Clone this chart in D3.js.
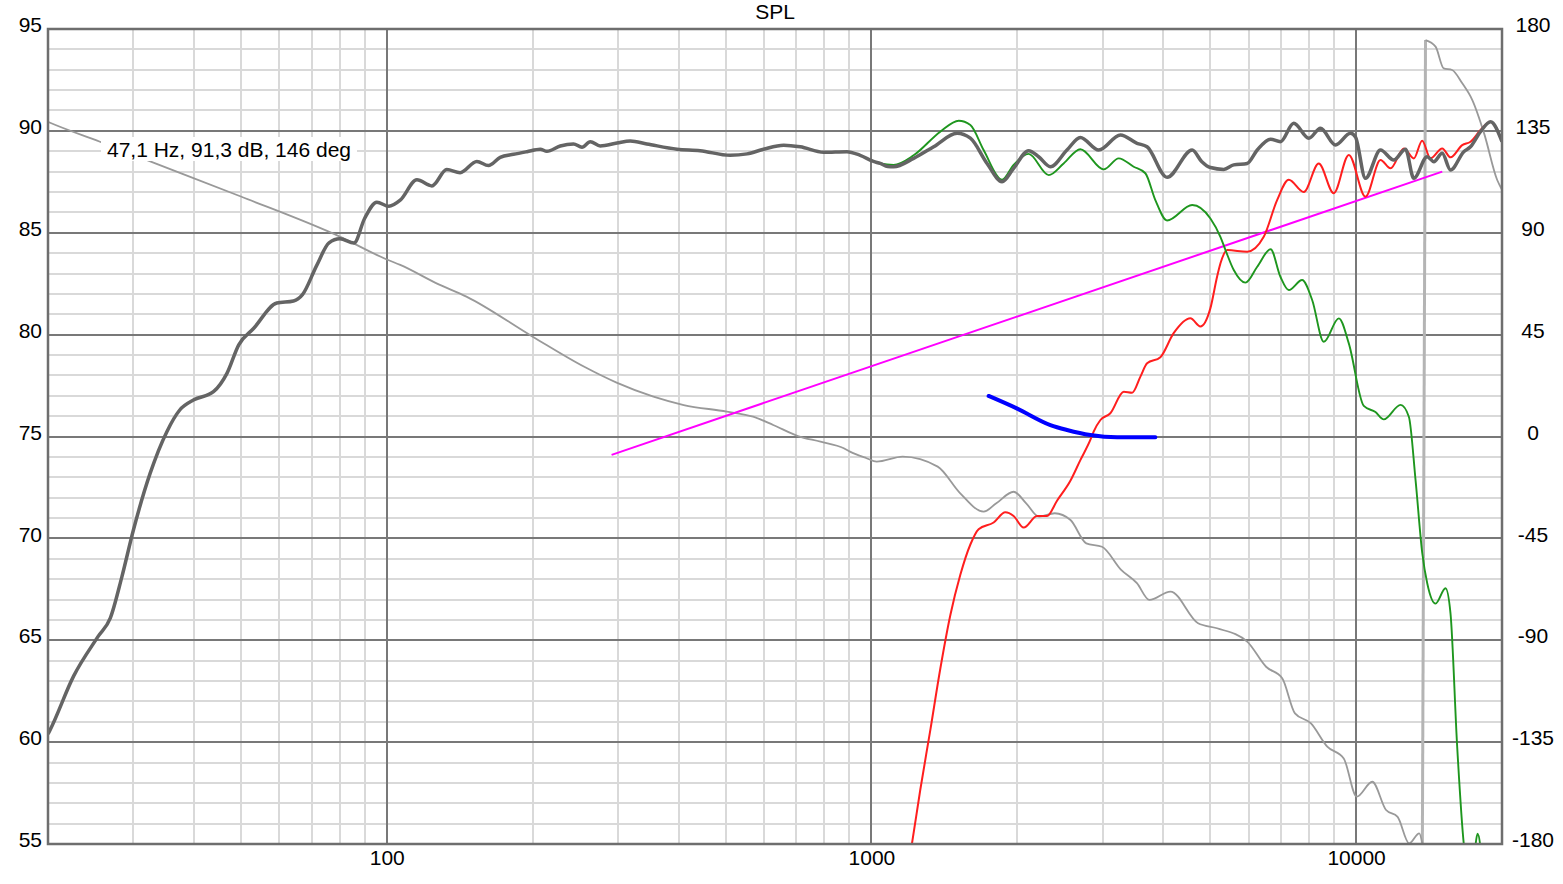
<!DOCTYPE html>
<html><head><meta charset="utf-8">
<script src="https://cdn.jsdelivr.net/npm/d3@7"></script>
<style>
html,body{margin:0;padding:0;background:#fff;}
svg{display:block;font-family:"Liberation Sans",Arial,sans-serif;}
</style></head><body>
<svg id="chart" width="1563" height="884"></svg>
<script>
// ---------- data ----------
const title = "SPL";
const cursorLabel = "47,1 Hz, 91,3 dB, 146 deg";
const xTickValues = [100, 1000, 10000];
const yLeftTicks = [55, 60, 65, 70, 75, 80, 85, 90, 95];
const yRightTicks = [-180, -135, -90, -45, 0, 45, 90, 135, 180];

// total SPL (dark grey, thick) [Hz, dB]
const totalSpl = [
  [20,60.4],[20.2,60.6],[22.6,63.25],[25.4,65.2],[26.9,66.1],[28.4,68.1],[30,70.4],[32.5,73.2],
  [35.2,75.25],[37.4,76.3],[40,76.8],[43.9,77.2],[46.8,78.1],[49.5,79.5],[53.1,80.3],
  [59.3,81.55],[64.2,81.65],[67,81.96],[71.7,83.4],[76,84.5],[80,84.7],[85.6,84.5],
  [90,85.7],[95.4,86.5],[101,86.3],[106.6,86.6],[115.4,87.6],[123.9,87.3],[133,88.1],
  [141.7,87.95],[153.4,88.5],[162.1,88.3],[171.4,88.7],[182.6,88.85],[194.6,88.98],
  [207.3,89.1],[214,89.0],[228,89.26],[242.8,89.36],[252.8,89.2],[263,89.47],[275.7,89.26],
  [298.5,89.4],[318,89.5],[344,89.36],[397,89.1],[443,89.03],[511,88.8],[554,88.87],
  [599,89.1],[659,89.3],[713,89.22],[797,88.95],[890,88.98],[948,88.8],[1010,88.5],
  [1043,88.4],[1080,88.25],[1111,88.24],[1222,88.65],[1344,89.22],[1502,89.88],[1600,89.64],
  [1732,88.4],[1860,87.5],[1965,88.16],[2110,89.03],[2213,88.73],[2340,88.24],[2532,89.06],
  [2698,89.68],[2944,89.06],[3264,89.8],[3532,89.39],[3704,89.22],[4074,87.72],[4590,89.06],
  [4800,88.5],[5005,88.2],[5333,88.11],[5592,88.33],[5960,88.4],[6252,89.06],[6661,89.59],
  [6980,89.47],[7436,90.37],[7988,89.64],[8443,90.13],[9066,89.31],[9736,89.88],[9970,89.7],
  [10455,87.67],[11228,89.06],[11960,88.57],[12644,89.1],[13154,87.67],[14014,88.73],
  [14464,88.49],[15055,88.9],[15659,88.08],[16680,88.98],[17220,89.22],[18059,89.96],
  [18940,90.45],[20000,89.47]
];

// woofer SPL (green) [Hz, dB]
const wooferSpl = [
  [1000,88.55],[1043,88.4],[1111,88.33],[1222,88.8],[1387,89.96],[1514,90.5],[1600,90.29],
  [1704,89.06],[1860,87.6],[1965,88.33],[2110,88.87],[2322,87.83],[2492,88.4],[2698,89.1],
  [3015,88.11],[3238,88.65],[3476,88.24],[3674,87.92],[3853,86.6],[4074,85.6],[4590,86.36],
  [5005,85.7],[5248,84.8],[5377,84.15],[5592,83.17],[5912,82.55],[6252,83.33],[6661,84.19],
  [6980,82.84],[7262,82.19],[7738,82.68],[8116,81.7],[8577,79.65],[9212,80.8],[9659,79.57],
  [10372,76.5],[10964,76.2],[11406,75.84],[12352,76.55],[12848,75.97],[13264,72.86],
  [13694,69.27],[14020,67.8],[14586,66.8],[15294,67.55],[15659,66.32],[16162,59.8],
  [16680,55.0],[17060,53.5],[17553,54.6],[17804,55.5],[18059,54.8],[18316,52],[19000,48]
];

// tweeter SPL (red) [Hz, dB]
const tweeterSpl = [
  [1150,51.8],[1212,55.0],[1261,57.65],[1323,60.6],[1387,63.6],[1455,66.24],[1525,68.2],
  [1600,69.7],[1664,70.45],[1787,70.78],[1889,71.28],[1965,71.1],[2061,70.53],[2197,71.1],
  [2303,71.1],[2415,71.85],[2575,72.84],[2698,73.84],[2829,74.83],[2874,75.24],[2968,75.81],
  [3111,76.14],[3316,77.2],[3450,77.15],[3589,77.94],[3705,78.59],[3946,78.89],[4203,80.07],
  [4550,80.8],[4773,80.4],[5005,81.3],[5166,82.84],[5250,83.5],[5425,84.15],[5960,84.07],
  [6448,84.8],[6871,86.6],[7262,87.6],[7798,87.0],[8374,88.4],[8993,86.94],[9659,88.82],
  [10455,86.77],[11230,88.57],[11776,88.16],[12546,89.14],[13157,88.65],[13687,89.52],
  [14237,88.65],[15055,89.14],[15659,88.7],[16557,89.3],[17222,89.47],[18059,90.04],
  [18933,90.45],[20000,89.47]
];

// straight reference line (magenta) [Hz, dB]
const targetLine = [[291,74.1],[15056,88.0]];

// blue curve [Hz, dB]
const blueCurve = [
  [1745,76.99],[1994,76.38],[2340,75.56],[2533,75.32],[2829,75.07],[3212,74.96],[3853,74.96]
];

// total phase (thin grey, right axis) [Hz, deg]
const totalPhase = [
  [20,139],[20.2,138.6],[25.6,130.2],[33,121.0],[50,106],[80,88.3],[100,78.2],[106.6,75.8],
  [128,67.2],[146,61.8],[200,44.1],[255,30.9],[298,23.8],[355,17.6],[410,13.9],[503,11.0],
  [570,8.75],[627,5.1],[705,0.2],[785,-2.3],[877,-5.2],[903,-6.7],[977,-9.6],[1025,-11.1],
  [1160,-8.9],[1370,-13.3],[1525,-25.1],[1704,-33.2],[1810,-29.5],[1965,-24.4],[2086,-29.5],
  [2217,-35.4],[2389,-33.9],[2575,-36.9],[2775,-47.2],[2990,-48.7],[3275,-58.9],[3530,-64.8],
  [3745,-72.2],[4140,-68.5],[4720,-82.5],[5166,-84.7],[5960,-90.6],[6520,-101.7],[7040,-106.8],
  [7480,-122.3],[8070,-126.7],[8720,-137.0],[9430,-142.2],[10030,-159.1],[10800,-152.5],
  [11530,-165.0],[12180,-168.0],[12870,-179.7],[13500,-175.3],[13700,-179.9],
  [13906,175.1],[14586,172.2],[15160,162.6],[15780,161.9],[16560,156.0],[17370,148.6],
  [18370,133.9],[19550,113.3],[20000,109.0]
];

// ---------- chart ----------
const svg = d3.select("#chart");
const L = 48, R = 1502, T = 29, B = 844;
const x = d3.scaleLog().domain([20, 20000]).range([L, R]);
const y = d3.scaleLinear().domain([55, 95]).range([B, T]);
const yR = d3.scaleLinear().domain([-180, 180]).range([B, T]);

const minorX = [];
[10, 100, 1000].forEach(d => { for (let k = 2; k <= 9; k++) { const v = k * d; if (v > 20 && v < 20000 && !xTickValues.includes(v)) minorX.push(v); } });
const minorY = d3.range(56, 95, 1).filter(v => v % 5 !== 0);
const majorY = d3.range(60, 95, 5);

const grid = svg.append("g");
grid.selectAll(".mx").data(minorX).enter().append("line")
  .attr("x1", d => Math.round(x(d))).attr("x2", d => Math.round(x(d))).attr("y1", T).attr("y2", B)
  .attr("stroke", "#d9d9d9").attr("stroke-width", 2);
grid.selectAll(".my").data(minorY).enter().append("line")
  .attr("x1", L).attr("x2", R).attr("y1", d => Math.round(y(d))).attr("y2", d => Math.round(y(d)))
  .attr("stroke", "#d9d9d9").attr("stroke-width", 2);
grid.selectAll(".Mx").data(xTickValues).enter().append("line")
  .attr("x1", d => Math.round(x(d))).attr("x2", d => Math.round(x(d))).attr("y1", T).attr("y2", B)
  .attr("stroke", "#787878").attr("stroke-width", 2);
grid.selectAll(".My").data(majorY).enter().append("line")
  .attr("x1", L).attr("x2", R).attr("y1", d => Math.round(y(d))).attr("y2", d => Math.round(y(d)))
  .attr("stroke", "#787878").attr("stroke-width", 2);

svg.append("defs").append("clipPath").attr("id", "plotClip")
  .append("rect").attr("x", L).attr("y", T).attr("width", R - L).attr("height", B - T);

const curves = svg.append("g").attr("clip-path", "url(#plotClip)");
const lineL = d3.line().x(d => x(d[0])).y(d => y(d[1])).curve(d3.curveMonotoneX);
const lineR = d3.line().x(d => x(d[0])).y(d => yR(d[1])).curve(d3.curveMonotoneX);

// phase: split at wrap
let wrapIdx = totalPhase.findIndex((d, i) => i > 0 && d[1] - totalPhase[i - 1][1] > 180);
const ph1 = totalPhase.slice(0, wrapIdx), ph2 = totalPhase.slice(wrapIdx);
curves.append("line")
  .attr("x1", x(ph1[ph1.length - 1][0])).attr("y1", yR(ph1[ph1.length - 1][1]))
  .attr("x2", x(ph2[0][0])).attr("y2", yR(ph2[0][1]))
  .attr("stroke", "#b4b4b4").attr("stroke-width", 3);
[ph1, ph2].forEach(seg => curves.append("path").datum(seg).attr("d", lineR)
  .attr("fill", "none").attr("stroke", "#999").attr("stroke-width", 1.8));

curves.append("path").datum(targetLine).attr("d", d3.line().x(d => x(d[0])).y(d => y(d[1])))
  .attr("fill", "none").attr("stroke", "#ff00ff").attr("stroke-width", 2);
curves.append("path").datum(tweeterSpl).attr("d", lineL)
  .attr("fill", "none").attr("stroke", "#ff1e1e").attr("stroke-width", 2);
curves.append("path").datum(wooferSpl).attr("d", lineL)
  .attr("fill", "none").attr("stroke", "#1e961e").attr("stroke-width", 1.9);
curves.append("path").datum(totalSpl).attr("d", lineL)
  .attr("fill", "none").attr("stroke", "#646464").attr("stroke-width", 3.5).attr("stroke-linejoin", "round");
curves.append("path").datum(blueCurve).attr("d", lineL)
  .attr("fill", "none").attr("stroke", "#0000ff").attr("stroke-width", 4).attr("stroke-linecap", "round");

// frame
svg.append("rect").attr("x", L).attr("y", T).attr("width", R - L).attr("height", B - T)
  .attr("fill", "none").attr("stroke", "#6e6e6e").attr("stroke-width", 2.5);

// axes
const fs = 21;
const plain = d => String(d);
const ax1 = svg.append("g").attr("transform", `translate(${L},0)`)
  .call(d3.axisLeft(y).tickValues(yLeftTicks).tickFormat(plain).tickSize(0).tickPadding(6));
const ax2 = svg.append("g").attr("transform", `translate(${R},0)`)
  .call(d3.axisRight(yR).tickValues(yRightTicks).tickFormat(plain).tickSize(0).tickPadding(6));
const ax3 = svg.append("g").attr("transform", `translate(0,${B})`)
  .call(d3.axisBottom(x).tickValues(xTickValues).tickFormat(plain).tickSize(0).tickPadding(6));
[ax1, ax2, ax3].forEach(a => {
  a.select(".domain").remove();
  a.selectAll("text").attr("font-size", fs).attr("fill", "#000")
    .attr("font-family", '"Liberation Sans", Arial, sans-serif');
});
ax1.selectAll("text").attr("dy", "0.13em");
ax2.selectAll("text").attr("dy", "0.13em").attr("x", 31).attr("text-anchor", "middle");

// title
svg.append("text").attr("x", (L + R) / 2).attr("y", 19).attr("text-anchor", "middle")
  .attr("font-size", fs).attr("fill", "#000").text(title);

// cursor label
const lab = svg.append("g");
const lt = lab.append("text").attr("x", 107).attr("y", 157).attr("font-size", fs).attr("fill", "#000").text(cursorLabel);
const bb = lt.node().getBBox();
lab.insert("rect", "text").attr("x", bb.x - 6).attr("y", 137).attr("width", bb.width + 12).attr("height", 24).attr("fill", "#fff");
</script>
</body></html>
